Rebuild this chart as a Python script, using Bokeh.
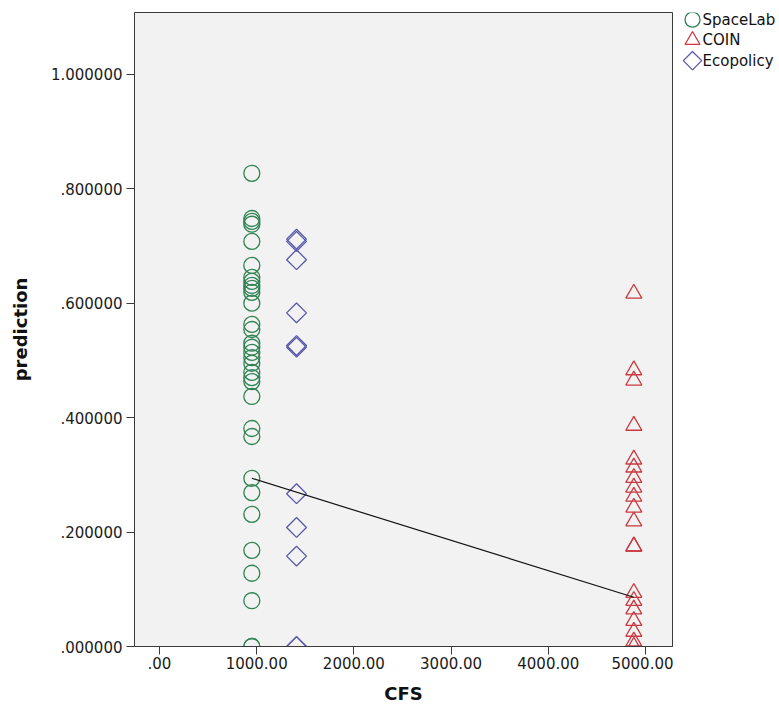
import numpy as np
from bokeh.plotting import figure
from bokeh.layouts import row
from bokeh.models import Range1d, FixedTicker, ColumnDataSource
from bokeh.core.properties import value
from bokeh.embed import file_html
from bokeh.resources import INLINE

# ---- data ----
spacelab_cfs = 950
ecopolicy_cfs = 1410
coin_cfs = 4880

spacelab_pred = [0.827, 0.748, 0.743, 0.738, 0.708, 0.666, 0.645, 0.638, 0.631,
                 0.626, 0.619, 0.600, 0.563, 0.554, 0.530, 0.523, 0.514, 0.505,
                 0.495, 0.479, 0.470, 0.463, 0.437, 0.381, 0.367, 0.294, 0.269,
                 0.231, 0.168, 0.128, 0.080, 0.0, 0.0]
coin_pred = [0.617, 0.483, 0.465, 0.386, 0.327, 0.313, 0.295, 0.278, 0.262,
             0.243, 0.219, 0.175, 0.175, 0.094, 0.080, 0.065, 0.045, 0.026,
             0.009, 0.0]
ecopolicy_pred = [0.712, 0.708, 0.676, 0.583, 0.526, 0.523, 0.267, 0.208,
                  0.158, 0.0, 0.0]

fit_cfs = [950, 4880]
fit_pred = [0.294, 0.086]

x_ticks = [0, 1000, 2000, 3000, 4000, 5000]
x_tick_labels = [".00", "1000.00", "2000.00", "3000.00", "4000.00", "5000.00"]
y_ticks = [0.0, 0.2, 0.4, 0.6, 0.8, 1.0]
y_tick_labels = [".000000", ".200000", ".400000", ".600000", ".800000", "1.000000"]

series_names = ["SpaceLab", "COIN", "Ecopolicy"]
series_colors = ["#2f8253", "#c9393f", "#5757a8"]

FONT = "DejaVu Sans"

p = figure(width=673, height=711, output_backend="svg", toolbar_location=None,
           x_range=Range1d(-257, 5278), y_range=Range1d(0, 1.108),
           min_border_left=134, min_border_right=1, min_border_top=12,
           min_border_bottom=65)
p.background_fill_color = "#f2f2f2"
p.border_fill_color = "white"
p.outline_line_color = "#3a3a3a"
p.outline_line_width = 1
p.xgrid.visible = False
p.ygrid.visible = False

src_s = ColumnDataSource(dict(x=[spacelab_cfs] * len(spacelab_pred), y=spacelab_pred))
src_c = ColumnDataSource(dict(x=[coin_cfs] * len(coin_pred), y=coin_pred))
src_e = ColumnDataSource(dict(x=[ecopolicy_cfs] * len(ecopolicy_pred), y=ecopolicy_pred))

MK = [dict(marker="circle", size=16, angle=0.0),
      dict(marker="triangle", size=16, angle=0.0),
      dict(marker="square", size=14, angle=np.pi / 4)]

for src, col, mk in zip((src_s, src_c, src_e), series_colors, MK):
    p.scatter("x", "y", source=src, fill_color=None, line_color=col,
              line_width=1.3, **mk)

p.line(fit_cfs, fit_pred, line_color="#111111", line_width=1.2)

for ax, ticks, labels in ((p.xaxis[0], x_ticks, x_tick_labels), (p.yaxis[0], y_ticks, y_tick_labels)):
    ax.ticker = FixedTicker(ticks=ticks)
    ax.major_label_overrides = dict(zip(ticks, labels))
    ax.major_tick_out = 8
    ax.major_tick_in = 0
    ax.minor_tick_out = 0
    ax.minor_tick_in = 0
    ax.axis_line_color = "#3a3a3a"
    ax.major_tick_line_color = "#3a3a3a"
    ax.major_label_text_font = FONT
    ax.major_label_text_font_size = "15px"
    ax.major_label_text_color = "#1a1a1a"
    ax.axis_label_text_font = FONT
    ax.axis_label_text_font_style = "bold"
    ax.axis_label_text_font_size = "18px"
    ax.axis_label_text_color = "#111111"

p.xaxis.axis_label = "CFS"
p.yaxis.axis_label = "prediction"
p.xaxis.major_label_standoff = 2
p.xaxis.axis_label_standoff = 11
p.yaxis.major_label_standoff = 4
p.yaxis.axis_label_standoff = 17

# ---- legend panel (outside the plot frame, to the right) ----
leg = figure(width=106, height=711, output_backend="svg", toolbar_location=None,
             x_range=Range1d(0, 106), y_range=Range1d(711, 0),
             min_border_left=0, min_border_right=0, min_border_top=0,
             min_border_bottom=0, x_axis_type=None, y_axis_type=None)
leg.outline_line_color = None
leg.background_fill_color = "white"
leg.border_fill_color = "white"
leg.xgrid.visible = False
leg.ygrid.visible = False

leg_y = [8, 31, 54]
for name, col, mk, yy in zip(series_names, series_colors, MK, leg_y):
    leg.scatter([19], [yy], fill_color=None, line_color=col, line_width=1.3,
                **{**mk, "size": mk["size"] - 1})
    leg.text([29], [yy], text=[name], text_font=value(FONT), text_font_size="15px",
             text_baseline="middle", text_align="left", text_color="#111111")

open("out.html", "w").write(file_html(row(p, leg), INLINE))
